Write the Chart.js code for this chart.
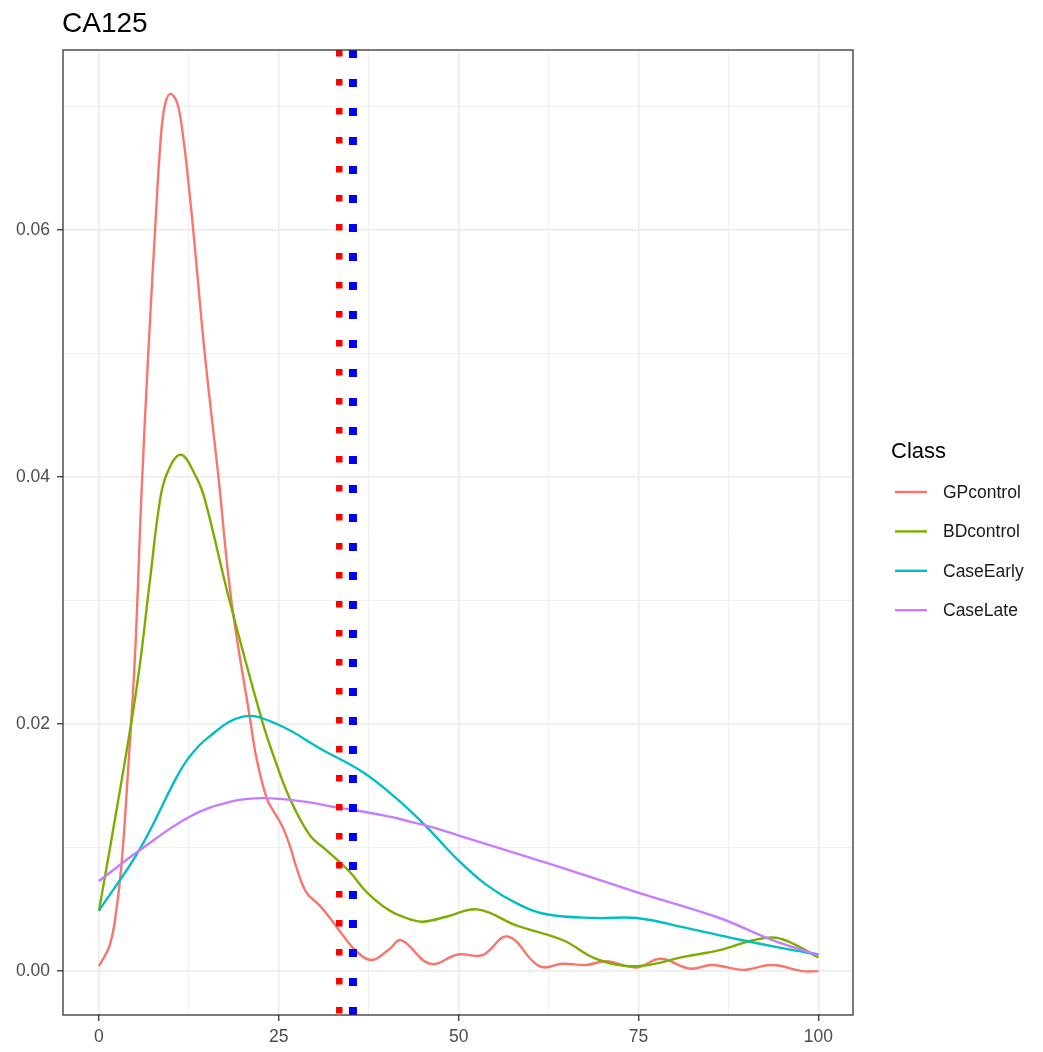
<!DOCTYPE html>
<html>
<head>
<meta charset="utf-8">
<script src="https://cdn.jsdelivr.net/npm/chart.js@4.4.1/dist/chart.umd.min.js"></script>
<style>
    body { margin: 0; background: #fff; }
    canvas { display: block; }
</style>
</head>
<body>
<canvas id="chart" width="1043" height="1052"></canvas>
<script>
// density curves, [CA125 value, density]
const gpcontrol = [
    [0, 0.0004], [1.5, 0.0021], [2.45, 0.0051], [3.2, 0.0091], [3.85, 0.0145],
    [5.0, 0.0255], [5.9, 0.0385], [6.85, 0.050], [7.8, 0.060], [8.6, 0.0675],
    [9.2, 0.0702], [9.95, 0.0710], [10.9, 0.0702], [11.7, 0.0675], [12.4, 0.064],
    [13.1, 0.060], [14.7, 0.050], [16.6, 0.040], [18.4, 0.030], [21.0, 0.0204],
    [21.9, 0.0172], [23.3, 0.0140], [24.2, 0.0130], [25.4, 0.0118], [26.5, 0.0102],
    [27.5, 0.0083], [28.8, 0.0064], [30.7, 0.0053], [32.1, 0.0043], [33.9, 0.0029],
    [35.8, 0.0016], [37.9, 0.0009], [40.4, 0.0018], [42.0, 0.0025], [46.0, 0.0006],
    [49.9, 0.00135], [53.3, 0.0013], [56.8, 0.0028], [61.2, 0.0004], [64.5, 0.0006],
    [67.7, 0.0005], [70.5, 0.0008], [74.7, 0.0003], [78.1, 0.0010], [82.1, 0.0002],
    [85.3, 0.0005], [89.5, 0.0001], [93.6, 0.0005], [97.8, 0.0], [100, 0.0]
];
const bdcontrol = [
    [0, 0.0049], [3.2, 0.0156], [5.4, 0.0236], [7.1, 0.0317], [8.4, 0.0378],
    [9.4, 0.0402], [11.35, 0.0418], [13.5, 0.0400], [14.7, 0.0382], [18.1, 0.0301],
    [22.6, 0.0204], [24.4, 0.0172], [26.5, 0.0140], [29.3, 0.0110], [31.6, 0.0098],
    [34.9, 0.0080], [37.2, 0.0064], [40.4, 0.0049], [43.2, 0.0042], [45, 0.0040],
    [48.3, 0.0044], [52.6, 0.0050], [58, 0.0037], [64.5, 0.0025], [69.1, 0.0010],
    [74.7, 0.0004], [81.6, 0.0012], [86.25, 0.0017], [90.9, 0.0025], [94.1, 0.0027],
    [96.9, 0.0021], [100, 0.0011]
];
const caseearly = [
    [0, 0.0049], [5.7, 0.0099], [10.7, 0.0156], [12.4, 0.0172], [14.95, 0.0188],
    [20, 0.0206], [24.7, 0.0200], [31.1, 0.0179], [36.7, 0.0161], [41.3, 0.0140],
    [45.5, 0.0117], [49.7, 0.0091], [53.8, 0.0070], [58, 0.0055], [62.2, 0.0046],
    [69.1, 0.0043], [74.7, 0.0043], [81.6, 0.0035], [88.6, 0.0026], [95.5, 0.0018],
    [100, 0.00135]
];
const caselate = [
    [0, 0.0073], [5.7, 0.0098], [12.6, 0.0125], [18.2, 0.0137], [22.8, 0.0140],
    [28.8, 0.0137], [32.5, 0.0133], [35.8, 0.0130], [40.4, 0.0125], [43.2, 0.0121],
    [46, 0.0117], [51.5, 0.0107], [63.1, 0.0086], [74.7, 0.0064], [86.25, 0.0043],
    [93.2, 0.0026], [100, 0.0013]
];

const classNames = ['GPcontrol', 'BDcontrol', 'CaseEarly', 'CaseLate'];
const classColors = ['#F8766D', '#7CAE00', '#00BFC4', '#C77CFF'];

// dotted cut-off lines
const cutoffs = [33.4, 35.3];
const cutoffColors = ['#FF0000', '#0000FF'];

const xMajorTicks = [0, 25, 50, 75, 100];
const xMinorTicks = [12.5, 37.5, 62.5, 87.5];
const yMajorTicks = [0, 0.02, 0.04, 0.06];
const yMinorTicks = [0.01, 0.03, 0.05, 0.07];
const yTickLabels = ['0.00', '0.02', '0.04', '0.06'];

const xRange = [-5, 104.8];
const yRange = [-0.00355, 0.07455];

const FONT = "'Liberation Sans', Arial, Helvetica, sans-serif";
Chart.defaults.font.family = FONT;

const toPoints = arr => arr.map(p => ({ x: p[0], y: p[1] }));

const series = [gpcontrol, bdcontrol, caseearly, caselate];
const datasets = [];

cutoffs.forEach((c, i) => {
    datasets.push({
        label: 'cutoff' + i,
        data: [{ x: c, y: yRange[1] }, { x: c, y: yRange[0] }],
        borderColor: cutoffColors[i],
        borderWidth: i === 0 ? 6.5 : 8,
        borderDash: i === 0 ? [6.5, 22.5] : [8, 21],
        pointRadius: 0,
        order: 2 - i
    });
});

series.forEach((s, i) => {
    datasets.push({
        label: classNames[i],
        data: toPoints(s),
        borderColor: classColors[i],
        borderWidth: 2.4,
        tension: 0.4,
        pointRadius: 0,
        order: 10 - i
    });
});

const isMajorX = v => xMajorTicks.includes(v);
const isMajorY = v => yMajorTicks.some(t => Math.abs(t - v) < 1e-9);

const decorations = {
    id: 'decorations',
    afterDatasetsDraw(chart) {
        const ctx = chart.ctx;
        const a = chart.chartArea;
        ctx.save();
        ctx.strokeStyle = '#333333';
        ctx.lineWidth = 1.3;
        ctx.strokeRect(a.left, a.top, a.right - a.left, a.bottom - a.top);
        ctx.restore();
    },
    afterDraw(chart) {
        const ctx = chart.ctx;
        ctx.save();
        ctx.fillStyle = '#000';
        ctx.textBaseline = 'alphabetic';
        ctx.font = '28px ' + FONT;
        ctx.fillText('CA125', 62, 32);

        ctx.font = '22px ' + FONT;
        ctx.fillText('Class', 891, 458);

        ctx.font = '17.5px ' + FONT;
        ctx.textBaseline = 'middle';
        classNames.forEach((name, i) => {
            const y = 492 + i * 39.4;
            ctx.strokeStyle = classColors[i];
            ctx.lineWidth = 2.4;
            ctx.beginPath();
            ctx.moveTo(895, y);
            ctx.lineTo(927, y);
            ctx.stroke();
            ctx.fillStyle = '#1a1a1a';
            ctx.fillText(name, 943, y + 1);
        });
        ctx.restore();
    }
};

new Chart(document.getElementById('chart'), {
    type: 'line',
    data: { datasets: datasets },
    options: {
        responsive: false,
        animation: false,
        layout: { padding: { top: 50, right: 190, left: 0, bottom: 0 } },
        plugins: {
            legend: { display: false },
            title: { display: false },
            tooltip: { enabled: false }
        },
        scales: {
            x: {
                type: 'linear',
                min: xRange[0],
                max: xRange[1],
                afterBuildTicks: s => {
                    s.ticks = xMajorTicks.concat(xMinorTicks).sort((a, b) => a - b).map(v => ({ value: v }));
                },
                afterFit: s => { s.height = 37; },
                ticks: {
                    autoSkip: false,
                    maxRotation: 0,
                    padding: 6,
                    color: '#4D4D4D',
                    font: { size: 17.5 },
                    callback: v => isMajorX(v) ? String(v) : ''
                },
                grid: {
                    color: '#EBEBEB',
                    lineWidth: c => isMajorX(c.tick.value) ? 1.5 : 0.75,
                    tickColor: c => isMajorX(c.tick.value) ? '#333333' : 'rgba(0,0,0,0)',
                    tickLength: 6,
                    tickWidth: 1.3
                },
                border: { display: false }
            },
            y: {
                type: 'linear',
                min: yRange[0],
                max: yRange[1],
                afterBuildTicks: s => {
                    s.ticks = yMajorTicks.concat(yMinorTicks).sort((a, b) => a - b).map(v => ({ value: v }));
                },
                afterFit: s => { s.width = 63; },
                ticks: {
                    autoSkip: false,
                    padding: 7,
                    color: '#4D4D4D',
                    font: { size: 17.5 },
                    callback: v => {
                        const k = yMajorTicks.findIndex(t => Math.abs(t - v) < 1e-9);
                        return k >= 0 ? yTickLabels[k] : '';
                    }
                },
                grid: {
                    color: '#EBEBEB',
                    lineWidth: c => isMajorY(c.tick.value) ? 1.5 : 0.75,
                    tickColor: c => isMajorY(c.tick.value) ? '#333333' : 'rgba(0,0,0,0)',
                    tickLength: 6,
                    tickWidth: 1.3
                },
                border: { display: false }
            }
        }
    },
    plugins: [decorations]
});
</script>
</body>
</html>
